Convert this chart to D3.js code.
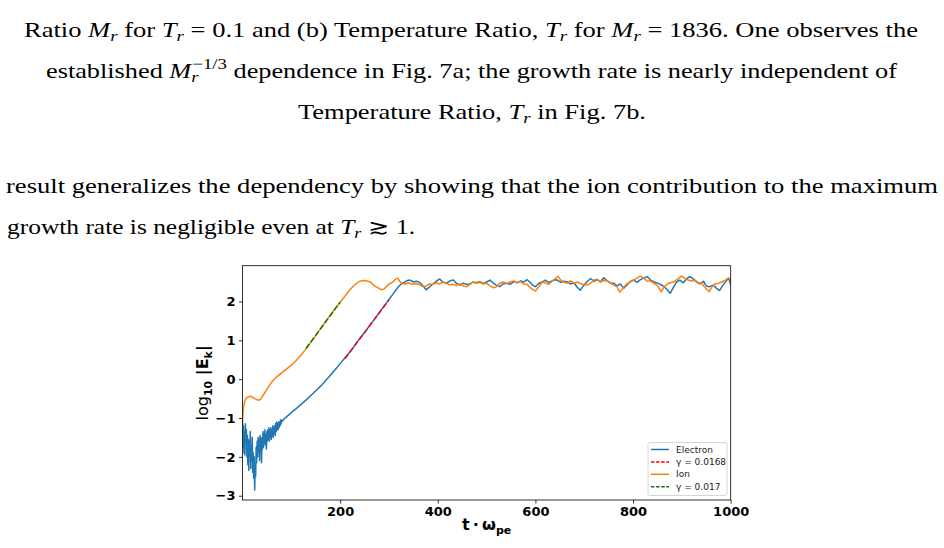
<!DOCTYPE html>
<html>
<head>
<meta charset="utf-8">
<script src="https://cdn.jsdelivr.net/npm/d3@7"></script>
<style>
  body { margin: 0; background: #fff; }
  svg { display: block; }
  .tex { font-family: "Liberation Serif", "DejaVu Serif", serif; font-size: 21px; fill: #000; }
  .tick text { font-family: "DejaVu Sans", sans-serif; font-weight: bold; font-size: 13px; fill: #000; }
  .legend text { font-family: "DejaVu Sans", sans-serif; font-size: 9px; fill: #222; }
</style>
</head>
<body>
<script>
// ---- data ----
// surrounding paper text, split into segments: [text, kind]
const bodyText = [
  [["Ratio "], ["M", "i"], ["r", "sub"], [" for "], ["T", "i"], ["r", "sub"], [" = 0.1 and (b) Temperature Ratio, "],
   ["T", "i"], ["r", "sub"], [" for "], ["M", "i"], ["r", "sub"], [" = 1836. One observes the"]],
  [["established "], ["M", "i"], ["r", "sub"], ["\u22121/3", "sup"], [" dependence in Fig. 7a; the growth rate is nearly independent of"]],
  [["Temperature Ratio, "], ["T", "i"], ["r", "sub"], [" in Fig. 7b."]],
  [["result generalizes the dependency by showing that the ion contribution to the maximum"]],
  [["growth rate is negligible even at "], ["T", "i"], ["r", "sub"], [" \u2273 1."]]
];

const xTicks = [200, 400, 600, 800, 1000];
const yTicks = [-3, -2, -1, 0, 1, 2];

// log10|E_k| vs t*w_pe, electron run
const electron = [
  [0,-1.05],[1,-1.75],[2,-1.2],[3,-1.9],[4,-1.35],[5,-1.95],[6,-1.15],[7,-1.6],[8,-1.3],[9,-2.0],
  [10,-1.45],[11,-2.2],[12,-1.55],[13,-2.35],[14,-1.6],[15,-2.0],[16,-1.35],[17,-2.3],[18,-1.7],[19,-2.1],
  [20,-1.5],[21,-2.4],[22,-1.9],[23,-2.55],[24,-2.0],[25,-2.85],[26,-2.2],[27,-2.5],[28,-1.75],[29,-2.15],
  [30,-1.6],[31,-2.0],[32,-1.5],[33,-1.9],[34,-1.55],[35,-2.1],[36,-1.45],[37,-1.85],[38,-1.5],[39,-2.15],
  [40,-1.55],[41,-1.8],[42,-1.35],[43,-1.75],[44,-1.4],[45,-1.65],[46,-1.3],[47,-1.7],[48,-1.45],[49,-1.8],
  [50,-1.35],[51,-1.6],[52,-1.3],[53,-1.55],[54,-1.25],[55,-1.6],[56,-1.3],[57,-1.5],[58,-1.25],[59,-1.55],
  [60,-1.3],[61,-1.45],[62,-1.2],[63,-1.5],[64,-1.25],[65,-1.4],[66,-1.2],[67,-1.45],[68,-1.15],[69,-1.35],
  [70,-1.1],[71,-1.3],[72,-1.15],[73,-1.3],[74,-1.1],[75,-1.25],[76,-1.1],[77,-1.2],[78,-1.05],[79,-1.15],
  [80,-1.05],[82,-1.08],[85,-1.02],[90,-0.97],[95,-0.92],[100,-0.86],[110,-0.76],[120,-0.65],[130,-0.54],
  [140,-0.42],[150,-0.3],[160,-0.18],[170,-0.04],[180,0.1],[190,0.25],[200,0.4],[210,0.55],[220,0.7],
  [230,0.87],[240,1.04],[250,1.2],[260,1.37],[270,1.54],[280,1.71],[290,1.88],[300,2.05],[310,2.22],
  [318,2.36],[325,2.45],[330,2.48],[336,2.53],[343,2.55],[350,2.5],[356,2.52],[363,2.49],[370,2.4],
  [376,2.3],[382,2.36],[390,2.45],[397,2.52],[404,2.58],[410,2.5],[418,2.47],[425,2.53],[432,2.55],
  [438,2.47],[445,2.42],[452,2.47],[459,2.44],[466,2.45],[472,2.5],[479,2.48],[486,2.51],[493,2.46],
  [500,2.5],[507,2.55],[514,2.47],[520,2.42],[527,2.38],[534,2.45],[541,2.47],[548,2.44],[556,2.51],
  [562,2.48],[570,2.53],[576,2.5],[583,2.56],[590,2.48],[595,2.41],[600,2.38],[607,2.47],[614,2.5],
  [620,2.55],[627,2.49],[634,2.53],[640,2.56],[645,2.55],[652,2.49],[658,2.52],[665,2.51],[672,2.45],
  [679,2.48],[686,2.36],[692,2.29],[698,2.4],[705,2.5],[713,2.59],[720,2.52],[727,2.56],[733,2.5],
  [740,2.61],[747,2.53],[754,2.47],[761,2.47],[767,2.4],[774,2.45],[781,2.34],[788,2.43],[795,2.52],
  [802,2.55],[808,2.49],[815,2.56],[822,2.6],[829,2.64],[836,2.55],[843,2.5],[850,2.47],[857,2.43],
  [864,2.38],[870,2.3],[876,2.21],[882,2.35],[889,2.5],[896,2.55],[903,2.48],[910,2.59],[916,2.64],
  [923,2.58],[930,2.5],[937,2.45],[944,2.52],[950,2.4],[957,2.38],[964,2.42],[970,2.35],[977,2.28],
  [984,2.42],[991,2.53],[996,2.6],[1000,2.42]
];

// ion run
const ion = [
  [0,-1.1],[1,-0.85],[2,-0.72],[4,-0.6],[6,-0.52],[8,-0.48],[12,-0.45],[16,-0.44],[20,-0.46],[25,-0.5],
  [30,-0.53],[34,-0.54],[38,-0.5],[42,-0.42],[48,-0.3],[55,-0.16],[62,-0.04],[70,0.06],[80,0.16],
  [90,0.26],[100,0.36],[110,0.48],[120,0.62],[130,0.78],[140,0.95],[150,1.12],[160,1.3],[170,1.48],
  [180,1.65],[190,1.82],[200,1.98],[210,2.14],[220,2.3],[230,2.43],[240,2.52],[248,2.54],[255,2.53],
  [262,2.5],[270,2.4],[278,2.35],[285,2.3],[290,2.32],[296,2.4],[302,2.46],[308,2.5],[314,2.58],
  [318,2.6],[322,2.52],[327,2.46],[333,2.45],[340,2.48],[347,2.44],[355,2.46],[363,2.43],[370,2.38],
  [376,2.4],[383,2.45],[390,2.44],[397,2.48],[404,2.45],[411,2.5],[418,2.46],[425,2.43],[432,2.44],
  [438,2.41],[445,2.45],[452,2.4],[459,2.38],[466,2.44],[472,2.5],[479,2.47],[486,2.49],[493,2.45],
  [500,2.47],[507,2.4],[514,2.35],[520,2.38],[527,2.47],[535,2.5],[541,2.46],[548,2.5],[556,2.53],
  [562,2.48],[569,2.51],[576,2.45],[583,2.44],[590,2.35],[596,2.3],[600,2.27],[607,2.38],[614,2.5],
  [620,2.48],[627,2.44],[634,2.52],[640,2.58],[646,2.65],[652,2.55],[658,2.5],[665,2.47],[672,2.53],
  [679,2.47],[686,2.5],[692,2.46],[699,2.43],[706,2.42],[713,2.47],[720,2.55],[726,2.57],[733,2.5],
  [740,2.54],[747,2.53],[754,2.48],[760,2.42],[767,2.38],[773,2.24],[780,2.35],[787,2.45],[794,2.5],
  [801,2.55],[808,2.6],[815,2.65],[822,2.6],[829,2.52],[835,2.53],[842,2.47],[850,2.4],[858,2.25],
  [864,2.38],[870,2.45],[876,2.48],[883,2.5],[890,2.56],[899,2.65],[906,2.6],[913,2.55],[920,2.52],
  [927,2.55],[934,2.48],[940,2.47],[946,2.38],[952,2.3],[956,2.25],[962,2.38],[968,2.45],[975,2.47],
  [982,2.5],[989,2.55],[995,2.6],[1000,2.57]
];

// linear growth-rate fits (end points)
const electronFit = [[210, 0.53], [300, 2.04]];
const ionFit = [[130, 0.79], [200, 1.98]];

const seriesNames = ["Electron", "\u03b3 = 0.0168", "Ion", "\u03b3 = 0.017"];

// ---- page ----
const W = 944, H = 548;
const svg = d3.select("body").append("svg")
  .attr("width", W)
  .attr("height", H);

svg.append("rect").attr("width", W).attr("height", H).attr("fill", "#fff");

// text layout: left x, baseline y, total width
const lineLayout = [
  { x: 24, y: 37, w: 894 },
  { x: 46, y: 78, w: 851 },
  { x: 298, y: 118.5, w: 348 },
  { x: 6, y: 193, w: 932 },
  { x: 7, y: 234, w: 408 }
];

bodyText.forEach((segs, i) => {
  const L = lineLayout[i];
  const t = svg.append("text")
    .attr("class", "tex")
    .attr("x", L.x)
    .attr("y", L.y)
    .attr("textLength", L.w)
    .attr("lengthAdjust", "spacingAndGlyphs");
  let shift = 0; // current baseline offset
  segs.forEach(([str, kind]) => {
    const ts = t.append("tspan").text(str);
    let target = 0;
    if (kind === "i") ts.style("font-style", "italic");
    if (kind === "sub") { target = 4; ts.style("font-style", "italic").style("font-size", "15px"); }
    if (kind === "sup") { target = -9; ts.style("font-size", "15px").attr("dx", -5); }
    if (target !== shift) ts.attr("dy", target - shift);
    shift = target;
  });
});

// ---- chart ----
const plot = { left: 242.5, right: 730.7, top: 265.7, bottom: 500 };

const x = d3.scaleLinear().domain([0, 1000]).range([plot.left, plot.right]);
const y = d3.scaleLinear().domain([-3.11, 2.92]).range([plot.bottom, plot.top]);

const chart = svg.append("g");

chart.append("clipPath").attr("id", "clip")
  .append("rect")
    .attr("x", plot.left).attr("y", plot.top)
    .attr("width", plot.right - plot.left).attr("height", plot.bottom - plot.top);

const line = d3.line().x((d) => x(d[0])).y((d) => y(d[1]));

const lines = chart.append("g").attr("clip-path", "url(#clip)");

lines.append("path").datum(electron)
  .attr("d", line).attr("fill", "none")
  .attr("stroke", "#1f77b4").attr("stroke-width", 1.5).attr("stroke-linejoin", "round");

lines.append("path").datum(electronFit)
  .attr("d", line).attr("fill", "none")
  .attr("stroke", "#ff0000").attr("stroke-width", 1.5).attr("stroke-dasharray", "5.5,2.4");

lines.append("path").datum(ion)
  .attr("d", line).attr("fill", "none")
  .attr("stroke", "#ff7f0e").attr("stroke-width", 1.5).attr("stroke-linejoin", "round");

lines.append("path").datum(ionFit)
  .attr("d", line).attr("fill", "none")
  .attr("stroke", "#008000").attr("stroke-width", 1.5).attr("stroke-dasharray", "5.5,2.4");

// axes
const xAxis = chart.append("g")
  .attr("transform", `translate(0,${plot.bottom})`)
  .call(d3.axisBottom(x).tickValues(xTicks).tickSize(3.5).tickPadding(3.5).tickSizeOuter(0)
    .tickFormat(d3.format("d")));

const yAxis = chart.append("g")
  .attr("transform", `translate(${plot.left},0)`)
  .call(d3.axisLeft(y).tickValues(yTicks).tickSize(3.5).tickPadding(3.5).tickSizeOuter(0)
    .tickFormat((d) => d < 0 ? "\u2212" + Math.abs(d) : d));

[xAxis, yAxis].forEach((a) => {
  a.select(".domain").remove();
  a.selectAll(".tick line").attr("stroke", "#000").attr("stroke-width", 0.8);
});

// frame
chart.append("rect")
  .attr("x", plot.left).attr("y", plot.top)
  .attr("width", plot.right - plot.left).attr("height", plot.bottom - plot.top)
  .attr("fill", "none").attr("stroke", "#000").attr("stroke-width", 0.8);

// axis labels
const ylab = chart.append("text")
  .attr("transform", `translate(208,${(plot.top + plot.bottom) / 2}) rotate(-90)`)
  .attr("text-anchor", "middle")
  .style("font-family", "DejaVu Sans, sans-serif")
  .style("font-size", "16px");
ylab.append("tspan").text("log");
ylab.append("tspan").text("10").attr("dy", 4).style("font-size", "11px").style("font-weight", "bold");
ylab.append("tspan").text(" |E").attr("dy", -4).style("font-weight", "bold");
ylab.append("tspan").text("k").attr("dy", 4).style("font-size", "11px").style("font-weight", "bold");
ylab.append("tspan").text("|").attr("dy", -4).style("font-weight", "bold");

const xlab = chart.append("text")
  .attr("x", (plot.left + plot.right) / 2)
  .attr("y", 530)
  .attr("text-anchor", "middle")
  .style("font-family", "DejaVu Sans, sans-serif")
  .style("font-weight", "bold")
  .style("font-size", "16px");
xlab.append("tspan").text("t\u2009\u00b7\u2009\u03c9");
xlab.append("tspan").text("pe").attr("dy", 4).style("font-size", "11px");

// legend
const legendStyle = [
  { color: "#1f77b4", dash: null },
  { color: "#ff0000", dash: "3.5,1.6" },
  { color: "#ff7f0e", dash: null },
  { color: "#008000", dash: "3.5,1.6" }
];

const legend = chart.append("g").attr("class", "legend").attr("transform", "translate(648,442.5)");
legend.append("rect")
  .attr("width", 79).attr("height", 53).attr("rx", 2)
  .attr("fill", "#fff").attr("fill-opacity", 0.8)
  .attr("stroke", "#ccc").attr("stroke-width", 0.8);

const items = legend.selectAll(".item")
  .data(seriesNames).enter()
  .append("g")
    .attr("class", "item")
    .attr("transform", (d, i) => `translate(0,${7 + i * 12.4})`);

items.append("line")
  .attr("x1", 3).attr("x2", 21)
  .attr("stroke", (d, i) => legendStyle[i].color)
  .attr("stroke-width", 1.5)
  .attr("stroke-dasharray", (d, i) => legendStyle[i].dash);

items.append("text")
  .attr("x", 28).attr("dy", "0.35em")
  .text((d) => d);
</script>
</body>
</html>
